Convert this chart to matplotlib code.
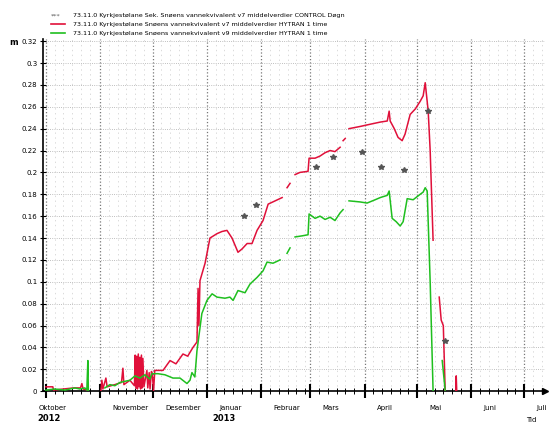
import numpy as np
import matplotlib
matplotlib.use('Agg')
import matplotlib.pyplot as plt
import matplotlib.dates as mdates

# dager etter 1. oktober 2012, verdi i meter
rod_dag = [0, 4, 4.4, 10, 16, 19.8, 20.6, 21.3, 24, 24.5,
           31.4, 32, 32.6, 34.3, 35, 39.4, 43.2, 44, 44.6, 48, 50.6,
           51, 51.4, 51.9, 52.3, 52.8, 53.2, 53.7, 54.1, 54.6, 55, 55.4, 56,
           57.7, 58.2, 59, 59.5, 60.3, 60.8, 61.5, 62.2, 63.4,
           66.9, 70.9, 74.3, 78.3, 81, 84, 86.3, 86.9, 87.4, 88, 90.9, 93.7,
           97.7, 100.6, 103.4, 106.3, 109.7, 112, 114.9, 117.7, 120.6, 124,
           126.9, 130.9, 134.9, 135.5, 137.7, 139.4, 140.5, 142.3, 145.1,
           149.7, 150.3, 153.7, 156.6, 159.4, 162.3, 165.1, 168, 168.8, 169.7,
           170.9, 171.8, 173.1, 179.4, 185.1, 190.9, 194.9, 196, 196.6, 198.9,
           201.1, 203.4, 205.1, 208, 210.9, 213.7, 215.4, 216.6, 218.3, 219.4,
           221.1, 222.5, 224.6, 225.7, 226.9, 228, 229, 234, 234.3, 234.6]
rod_verdi = [0.004, 0.004, 0.001, 0.002, 0.003, 0.003, 0.007, 0.002, 0.001, np.nan,
             0.0, 0.010, 0.002, 0.012, 0.004, 0.006, 0.008, 0.021, 0.006, 0.010, 0.005,
             0.033, 0.003, 0.032, 0.002, 0.034, 0.004, 0.031, 0.002, 0.033, 0.003, 0.030, 0.004,
             0.019, 0.003, 0.017, 0.002, 0.018, 0.016, 0.0, 0.019, 0.019,
             0.019, 0.028, 0.025, 0.034, 0.032, 0.040, 0.045, 0.094, 0.060, 0.101, 0.117, 0.140,
             0.144, 0.146, 0.147, 0.140, 0.127, 0.130, 0.135, 0.135, 0.147, 0.156,
             0.171, 0.174, 0.177, np.nan, 0.186, 0.190, np.nan, 0.198, 0.200,
             0.201, 0.213, 0.213, 0.215, 0.218, 0.220, 0.219, 0.223, np.nan, 0.229,
             0.231, np.nan, 0.240, 0.242, 0.244, 0.246, 0.247, 0.256, 0.247, 0.240,
             0.232, 0.229, 0.235, 0.253, 0.258, 0.265, 0.270, 0.282, 0.256, 0.220,
             0.138, np.nan, 0.086, 0.065, 0.060, 0.0, np.nan, 0.0, 0.014, 0.0]

gronn_dag = [0, 5, 10.9, 16.6, 19.4, 22.3, 23.4, 24, 24.3, 25,
             33.7, 36.6, 39.4, 42.3, 45.1, 48, 50.9, 53.7, 56.6, 59.4, 60.6,
             64, 68, 72.6, 76.6, 80.6, 82.3, 83.4, 85.1, 86.3, 89.1, 92, 94.9,
             97.7, 102.3, 105.1, 106.9, 109.7, 113.7, 116.6, 120.6, 124, 126.3,
             129.7, 133.7, 135.5, 137.7, 139.4, 140.5, 142.3, 146.3, 149.7, 150.3,
             153.7, 156.6, 159.4, 162.3, 165.1, 168, 169.7, 171.8, 173.1, 179.4,
             183.4, 188, 190.9, 194.9, 196, 197.7, 200, 202.3, 204, 206.3, 209.7,
             213.7, 215.4, 216.6, 217.7, 219.4, 221.1, 223, 226.3, 227.4, 228]
gronn_verdi = [0.001, 0.002, 0.001, 0.003, 0.002, 0.003, 0.001, 0.028, 0.0, np.nan,
               0.003, 0.006, 0.005, 0.008, 0.009, 0.010, 0.014, 0.012, 0.015, 0.011, 0.016,
               0.016, 0.015, 0.012, 0.012, 0.007, 0.010, 0.017, 0.013, 0.037, 0.071, 0.083, 0.089,
               0.086, 0.085, 0.086, 0.083, 0.092, 0.090, 0.098, 0.104, 0.110, 0.118,
               0.117, 0.120, np.nan, 0.126, 0.131, np.nan, 0.141, 0.142, 0.143, 0.162,
               0.158, 0.160, 0.157, 0.159, 0.156, 0.163, 0.166, np.nan, 0.174, 0.173,
               0.172, 0.175, 0.177, 0.179, 0.183, 0.158, 0.155, 0.151, 0.155, 0.176, 0.175,
               0.180, 0.182, 0.186, 0.183, 0.100, 0.0, np.nan, 0.028, 0.010, 0.0]

kontroll_dag = [113.1, 120, 154.3, 164, 180.6, 191.4, 204.6, 218.3, 228]
kontroll_verdi = [0.160, 0.170, 0.205, 0.214, 0.219, 0.205, 0.202, 0.256, 0.046]

maaneder = ['Oktober', 'November', 'Desember', 'Januar', 'Februar', 'Mars',
            'April', 'Mai', 'Juni', 'Juli']
aar = ['2012', '2013']

navn = ['73.11.0 Kyrkjestølane Sek. Snøens vannekvivalent v7 middelverdier CONTROL Døgn',
        '73.11.0 Kyrkjestølane Snøens vannekvivalent v7 middelverdier HYTRAN 1 time',
        '73.11.0 Kyrkjestølane Snøens vannekvivalent v9 middelverdier HYTRAN 1 time']

start = np.datetime64('2012-10-01T00:00')


def til_dato(dager):
    timer = np.round(np.asarray(dager, dtype=float) * 24).astype('int64')
    return start + timer.astype('timedelta64[h]')


plt.rcParams['font.family'] = 'DejaVu Sans'
fig = plt.figure(figsize=(5.5, 4.28), dpi=100)
ax = fig.add_axes([0.078, 0.086, 0.913, 0.823])

ax.plot(til_dato(rod_dag), rod_verdi, color='#e0103a', lw=1.1, zorder=3)
ax.plot(til_dato(gronn_dag), gronn_verdi, color='#1fbf1f', lw=1.1, zorder=3)
ax.plot(til_dato(kontroll_dag), kontroll_verdi, ls='none', marker='*',
        ms=3.8, color='#555555', zorder=4)

xmin = np.datetime64('2012-09-29T08:00')
xmax = np.datetime64('2013-07-13T00:00')
ax.set_xlim(xmin, xmax)
ax.set_ylim(0, 0.322)

# akser
for s in ['top', 'right']:
    ax.spines[s].set_visible(False)
ax.spines['left'].set_linewidth(1.2)
ax.spines['bottom'].set_linewidth(1.2)
ax.plot([1], [0], marker='>', ms=4, color='black', transform=ax.transAxes, clip_on=False)

ax.yaxis.set_major_locator(plt.MultipleLocator(0.02))
ax.yaxis.set_major_formatter(plt.FuncFormatter(lambda v, p: '%g' % round(v, 2)))
ax.tick_params(axis='y', direction='inout', length=4, width=0.8, labelsize=5, pad=2)

ax.xaxis.set_major_locator(mdates.MonthLocator())
ax.xaxis.set_minor_locator(mdates.DayLocator(bymonthday=[6, 11, 16, 21, 26]))
ax.xaxis.set_major_formatter(plt.NullFormatter())
ax.tick_params(axis='x', which='major', direction='inout', length=10, width=1.5)
ax.tick_params(axis='x', which='minor', direction='inout', length=4, width=0.7)

ax.grid(True, which='major', axis='y', ls=':', lw=0.6, color='#aaaaaa')
ax.grid(True, which='major', axis='x', ls=':', lw=0.9, color='#777777')
ax.grid(True, which='minor', axis='x', ls=(0, (2, 5)), lw=0.5, color='#cccccc')

# maanedsnavn under aksen
trans = ax.get_xaxis_transform()
maned_start = np.arange(np.datetime64('2012-10'), np.datetime64('2013-08'))
for i, m in enumerate(maaneder):
    if i == 0:
        x = np.datetime64('2012-09-27')
    else:
        x = maned_start[i].astype('datetime64[D]') + np.timedelta64(7, 'D')
    ax.text(x, -0.048, m, transform=trans, fontsize=5, ha='left', va='center',
            clip_on=False)
ax.text(np.datetime64('2012-09-26'), -0.077, aar[0], transform=trans, fontsize=6,
        fontweight='bold', ha='left', va='center')
ax.text(np.datetime64('2013-01-04'), -0.077, aar[1], transform=trans, fontsize=6,
        fontweight='bold', ha='left', va='center')

fig.text(0.025, 0.9, 'm', fontsize=6, fontweight='bold', ha='center', va='center')
fig.text(0.965, 0.018, 'Tid', fontsize=5, ha='center', va='center')

# forklaring
fig.text(0.092, 0.963, '***', fontsize=4.6, color='#555555', ha='left', va='center')
fig.text(0.133, 0.963, navn[0], fontsize=4.6, ha='left', va='center')
fig.lines.append(plt.Line2D([0.092, 0.118], [0.943, 0.943], color='#e0103a', lw=1.2,
                            transform=fig.transFigure))
fig.text(0.133, 0.943, navn[1], fontsize=4.6, ha='left', va='center')
fig.lines.append(plt.Line2D([0.092, 0.118], [0.922, 0.922], color='#1fbf1f', lw=1.2,
                            transform=fig.transFigure))
fig.text(0.133, 0.922, navn[2], fontsize=4.6, ha='left', va='center')

fig.savefig('out.png', dpi=100)
